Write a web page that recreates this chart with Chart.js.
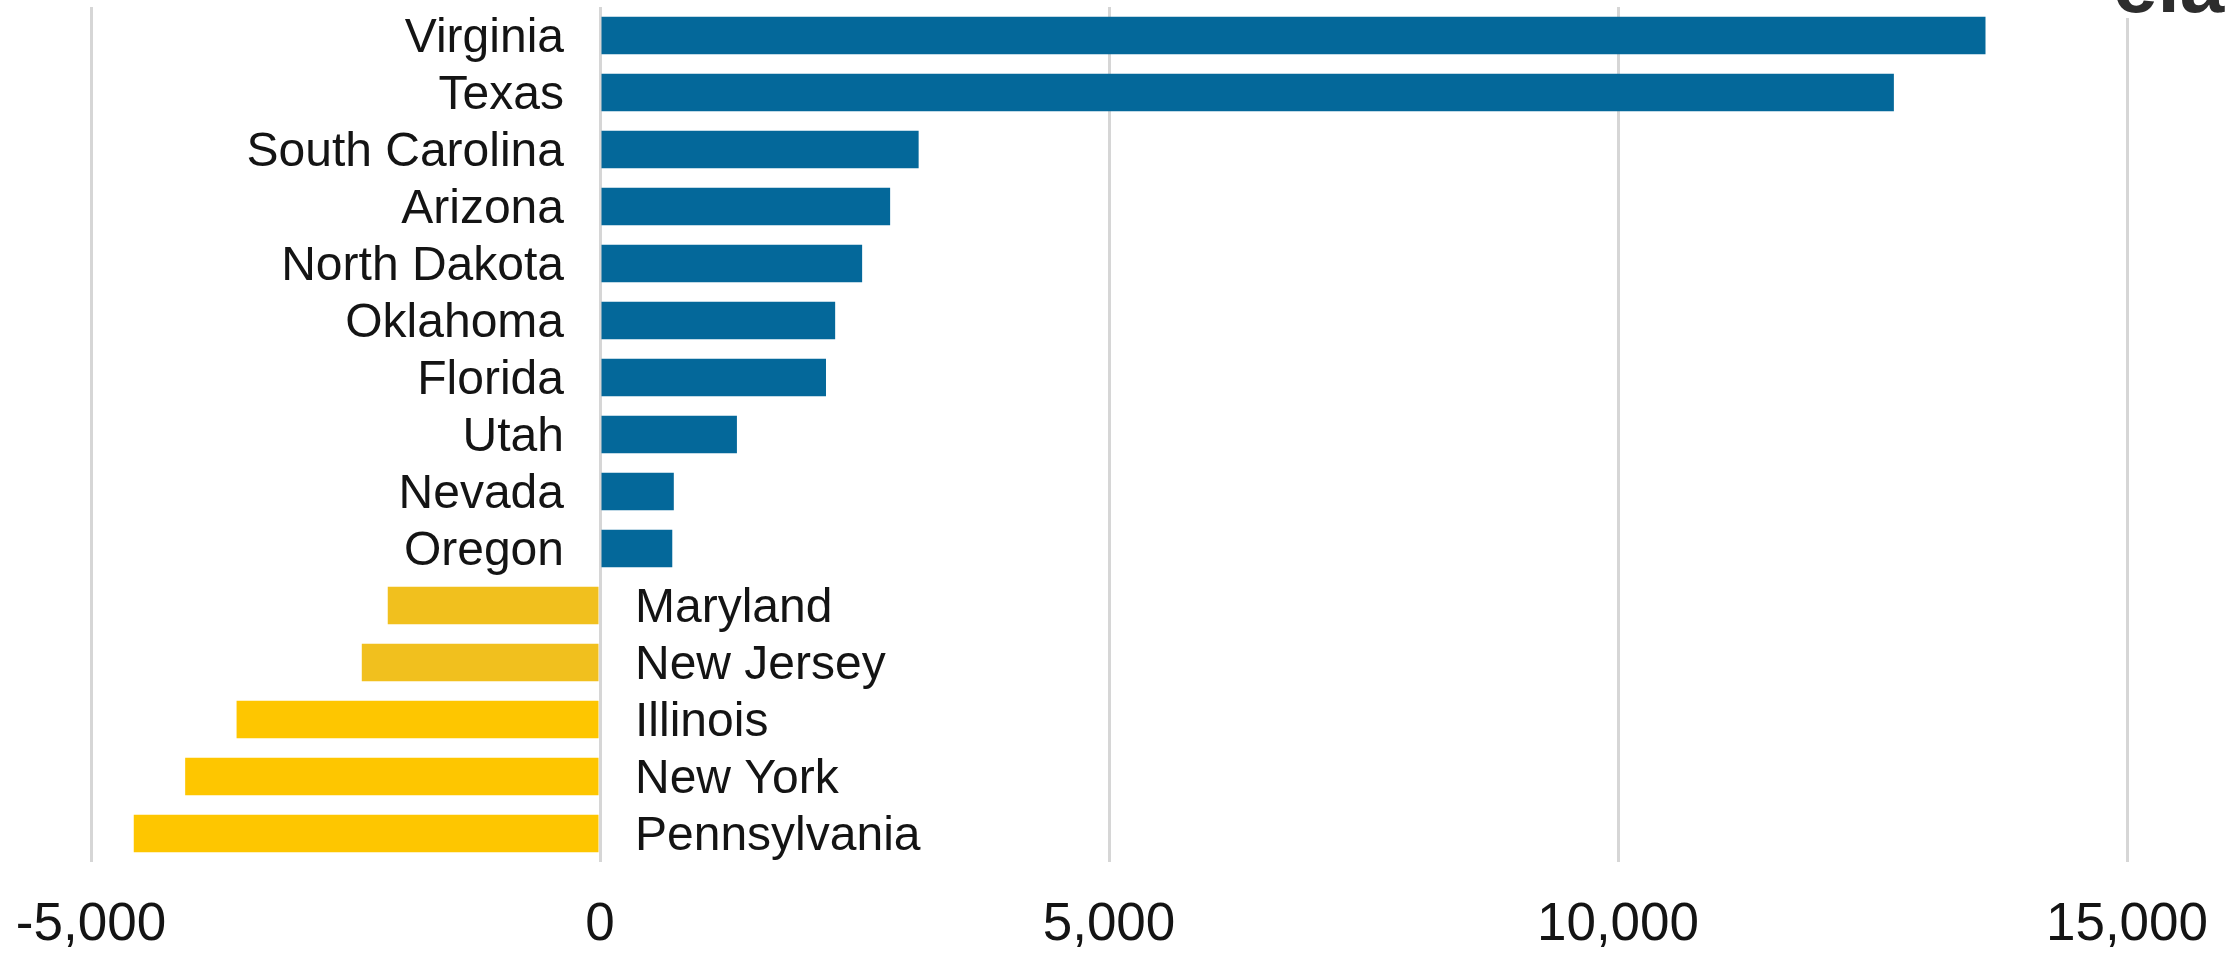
<!DOCTYPE html>
<html>
<head>
<meta charset="utf-8">
<script src="https://cdn.jsdelivr.net/npm/chart.js@4.4.0/dist/chart.umd.min.js"></script>
<style>
  html, body { margin: 0; padding: 0; background: #ffffff; }
  #wrap { width: 2234px; height: 955px; position: relative; }
</style>
</head>
<body>
<div id="wrap"><canvas id="chart"></canvas></div>
<script>
// Data
const states = [
  'Virginia', 'Texas', 'South Carolina', 'Arizona', 'North Dakota',
  'Oklahoma', 'Florida', 'Utah', 'Nevada', 'Oregon',
  'Maryland', 'New Jersey', 'Illinois', 'New York', 'Pennsylvania'
];
const netChange = [
  13610, 12710, 3130, 2850, 2575,
  2310, 2220, 1345, 725, 710,
  -2085, -2340, -3570, -4075, -4580
];
const tickValues = [-5000, 0, 5000, 10000, 15000];

// Colours
const BLUE = '#04689a';
const GOLD = '#f1c01e';
const YELLOW = '#fec600';
const barColors = netChange.map((v, i) => v >= 0 ? BLUE : (i < 12 ? GOLD : YELLOW));

const FONT = "'Liberation Sans', Arial, sans-serif";

// State names sit beside the zero line, on the side opposite the bar
const stateLabels = {
  id: 'stateLabels',
  afterDatasetsDraw(chart) {
    const { ctx, scales: { x, y } } = chart;
    const zero = x.getPixelForValue(0);
    ctx.save();
    ctx.font = '48px ' + FONT;
    ctx.fillStyle = '#141414';
    ctx.textBaseline = 'middle';
    states.forEach((name, i) => {
      const py = y.getPixelForValue(i) + 3;
      if (netChange[i] >= 0) {
        ctx.textAlign = 'right';
        ctx.fillText(name, zero - 36, py);
      } else {
        ctx.textAlign = 'left';
        ctx.fillText(name, zero + 35, py);
      }
    });
    ctx.restore();
  }
};

// Bottom of the EIA logo, cropped at the top edge
const logo = {
  id: 'logo',
  afterDraw(chart) {
    const { ctx } = chart;
    ctx.save();
    ctx.fillStyle = '#ffffff';
    ctx.fillRect(2100, 0, 134, 18);
    ctx.font = 'bold 80px ' + FONT;
    ctx.fillStyle = '#2d2d2d';
    ctx.textAlign = 'left';
    ctx.textBaseline = 'alphabetic';
    ctx.fillText('eia', 2113, 12);
    ctx.restore();
  }
};

new Chart(document.getElementById('chart'), {
  type: 'bar',
  data: {
    labels: states,
    datasets: [{
      data: netChange,
      backgroundColor: barColors,
      borderWidth: 0,
      categoryPercentage: 1,
      barPercentage: 0.66
    }]
  },
  options: {
    indexAxis: 'y',
    responsive: true,
    maintainAspectRatio: false,
    animation: false,
    layout: { padding: { left: 91, right: 107, top: 7, bottom: 0 } },
    plugins: {
      legend: { display: false },
      tooltip: { enabled: false }
    },
    scales: {
      x: {
        min: -5000,
        max: 15000,
        border: { display: false },
        grid: { color: '#d6d6d6', lineWidth: 3, drawTicks: false },
        afterBuildTicks: (axis) => { axis.ticks = tickValues.map(v => ({ value: v })); },
        afterFit: (axis) => { axis.height = 93; },
        ticks: {
          padding: 0,
          color: '#141414',
          font: { family: FONT, size: 53, lineHeight: 2.38 },
          maxRotation: 0
        }
      },
      y: {
        display: false
      }
    }
  },
  plugins: [stateLabels, logo]
});
</script>
</body>
</html>
